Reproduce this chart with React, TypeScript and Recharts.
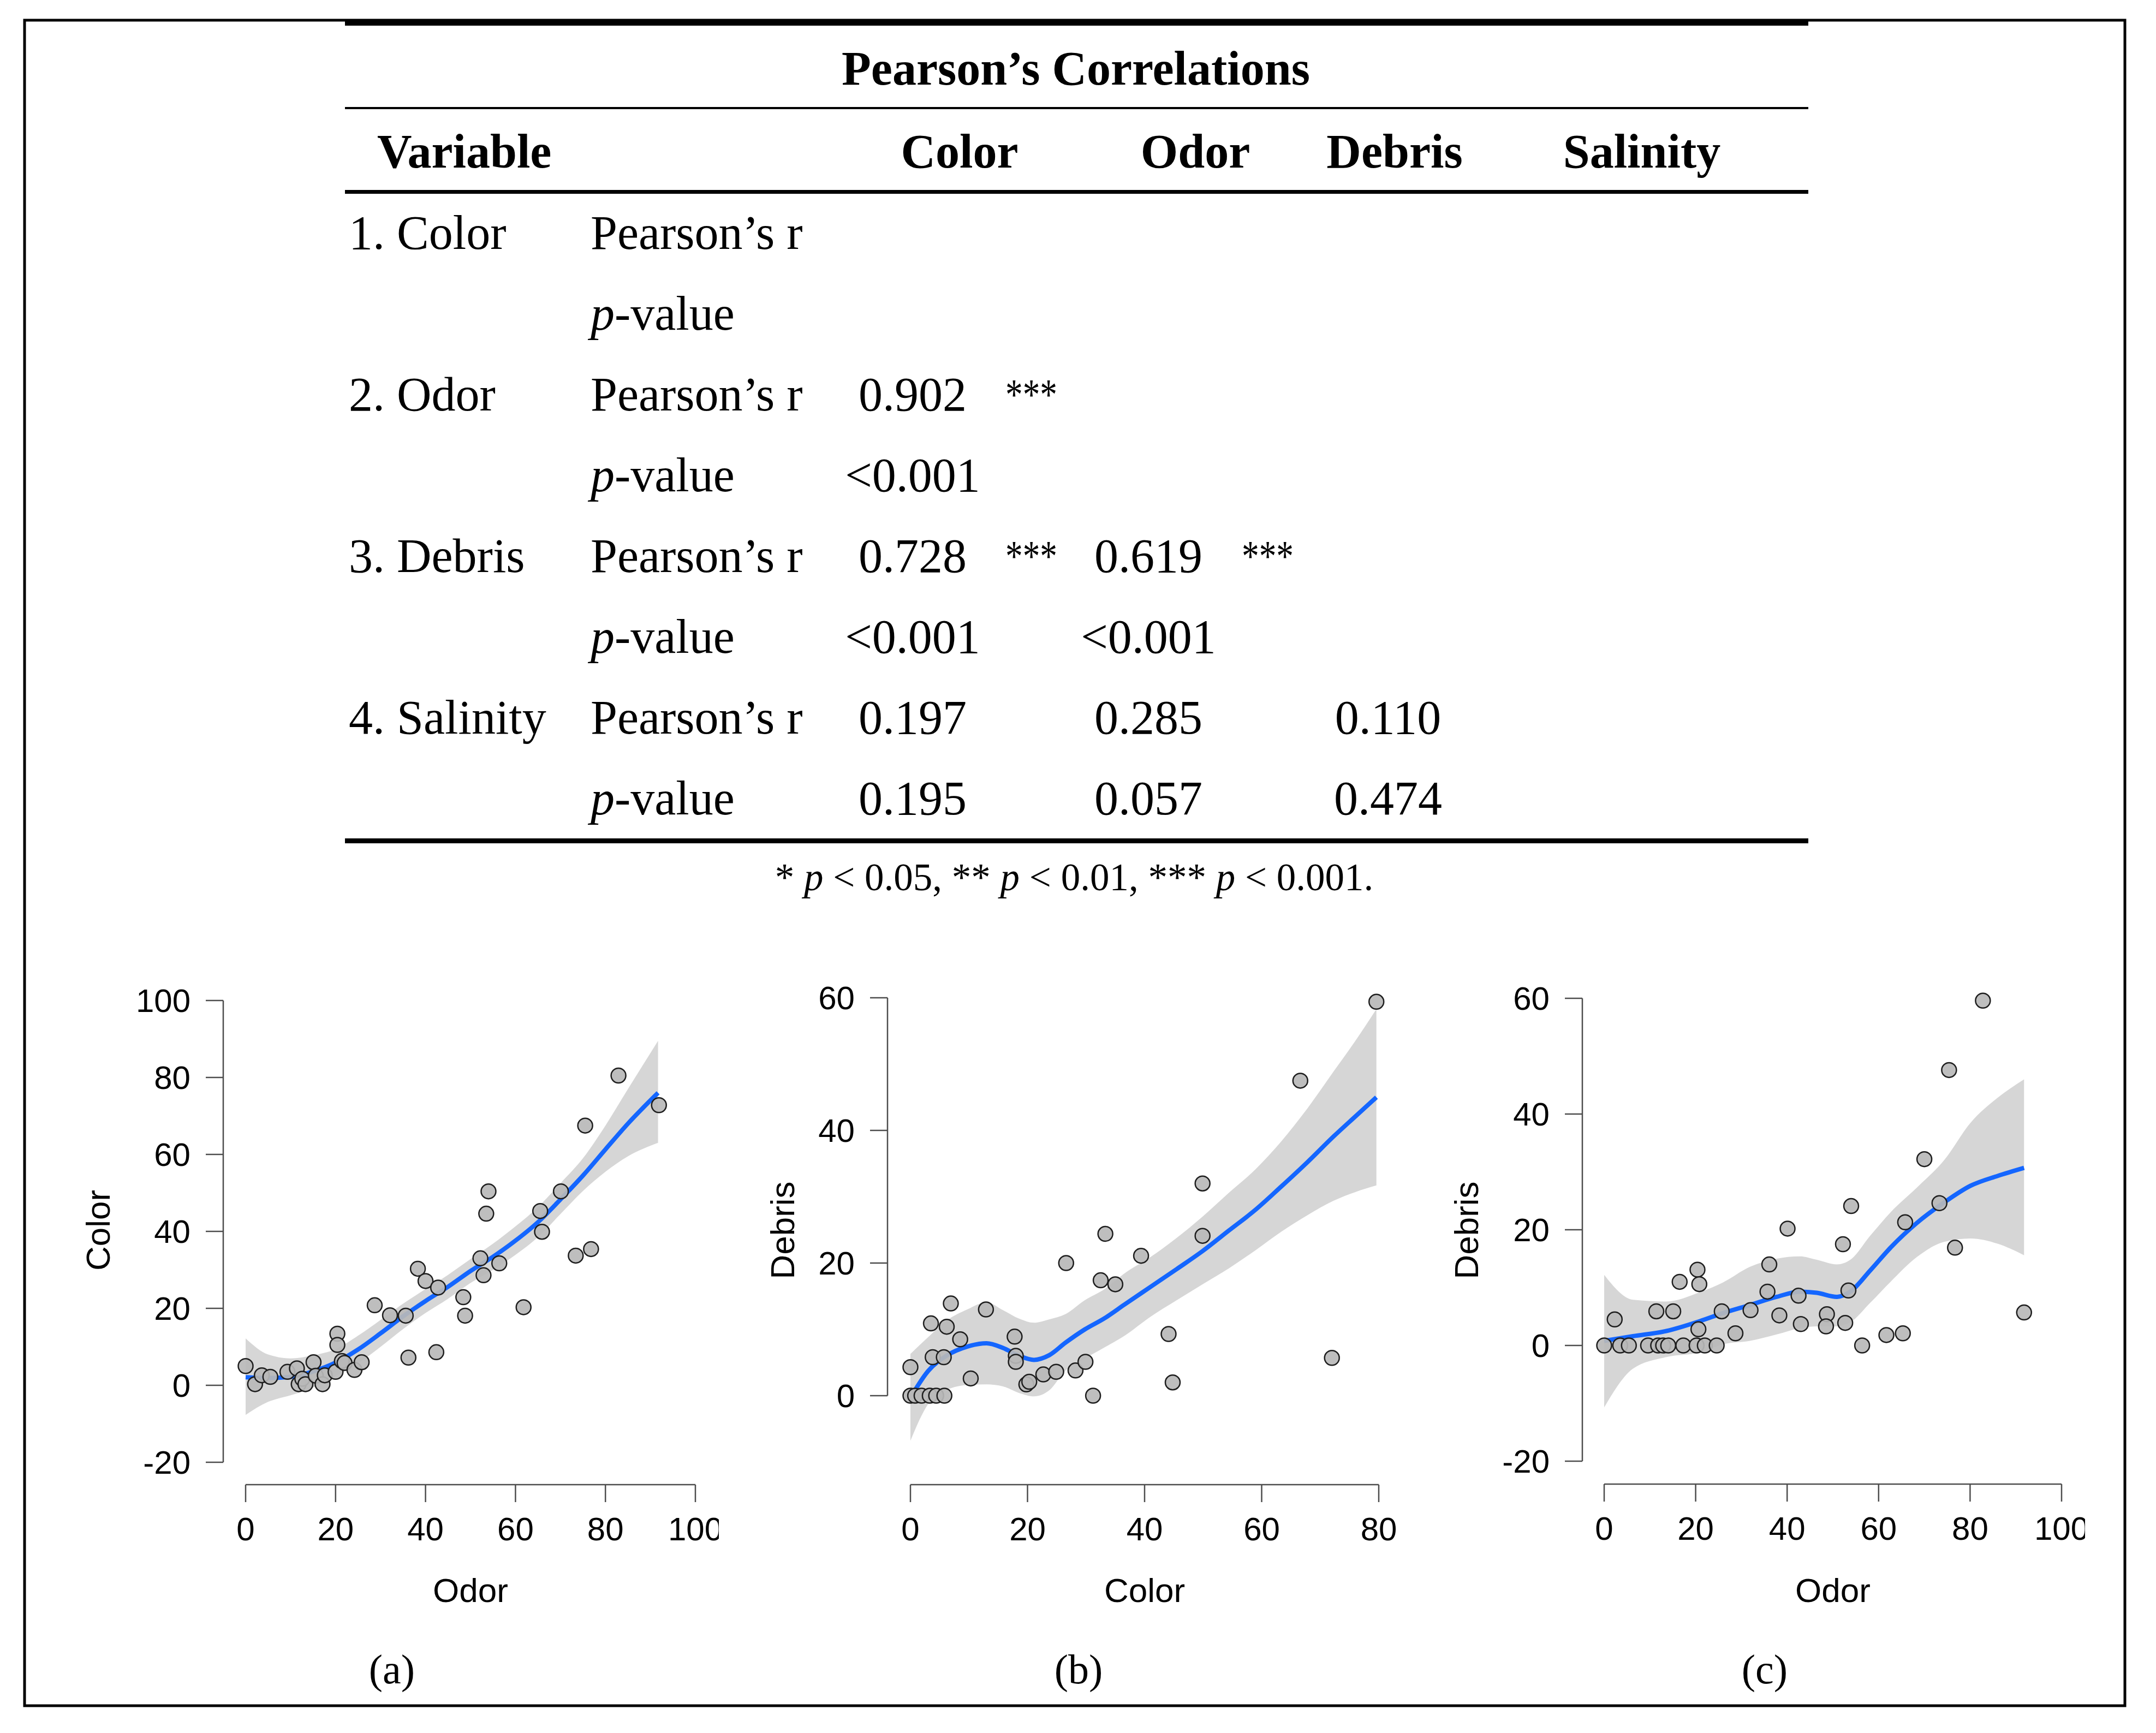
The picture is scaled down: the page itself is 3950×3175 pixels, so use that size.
import React from 'react';
import { ComposedChart, XAxis, YAxis, Area, Line, Scatter } from 'recharts';

const PAGE_W = 3950;
const PAGE_H = 3175;
const SANS = '"Liberation Sans", Arial, Helvetica, sans-serif';
const SERIF = '"Liberation Serif", "Times New Roman", serif';
const AXIS_COLOR = '#4d4d4d';
const BLUE = '#1466ff';
const BAND = '#d6d6d6';
const DOT_FILL = '#b9b9b9';
const DOT_STROKE = '#1e1e1e';

// ---------------- Table content ----------------
const TABLE_TITLE = 'Pearson’s Correlations';
const TABLE_HEADERS = ['Variable', 'Color', 'Odor', 'Debris', 'Salinity'];
const VARIABLES = ['1. Color', '2. Odor', '3. Debris', '4. Salinity'];
const R_VALUES: string[][] = [[], ['0.902'], ['0.728', '0.619'], ['0.197', '0.285', '0.110']];
const R_STARS: string[][] = [[], ['***'], ['***', '***'], ['', '', '']];
const P_VALUES: string[][] = [[], ['<0.001'], ['<0.001', '<0.001'], ['0.195', '0.057', '0.474']];
const STAT_LABEL_R = 'Pearson’s r';
const PANEL_LABELS = ['(a)', '(b)', '(c)'];

// ---------------- Panel (a): Odor vs Color ----------------
const A_POINTS: [number, number][] = [
  [0, 5.0], [2.1, 0.3], [3.6, 2.6], [5.5, 2.2], [9.3, 3.5], [11.4, 4.4], [11.8, 0.3], [12.6, 1.7],
  [13.3, 0.3], [15.1, 6.0], [15.6, 2.5], [17.1, 0.3], [17.6, 2.6], [20.0, 3.5], [20.4, 13.4], [20.4, 10.5],
  [21.4, 6.3], [22.0, 5.8], [24.2, 4.0], [25.8, 6.0], [28.7, 20.8], [32.1, 18.2], [35.6, 18.1], [36.2, 7.2],
  [38.3, 30.3], [40.0, 27.1], [42.8, 25.4], [42.4, 8.6], [48.4, 22.9], [48.8, 18.1], [52.2, 33.0], [52.9, 28.6],
  [53.5, 44.6], [54.0, 50.4], [56.4, 31.7], [61.8, 20.3], [65.5, 45.3], [65.9, 39.9], [70.1, 50.4], [73.4, 33.7],
  [75.5, 67.5], [76.8, 35.4], [82.9, 80.5], [91.9, 72.8],
];
const A_CURVE_X = [0, 5, 10, 15, 20, 25, 30, 35, 40, 45, 50, 55, 60, 65, 70, 75, 80, 85, 91.7];
const A_FIT = [2.1, 1.9, 2.2, 3.6, 5.9, 9.3, 13.5, 17.9, 21.9, 25.6, 29.7, 33.4, 37.6, 42.4, 48.3, 54.5, 61.3, 68.0, 76.0];
const A_LOW = [-7.7, -4.3, -2.6, -0.6, 2.4, 5.7, 10.0, 14.6, 18.8, 22.5, 26.6, 30.0, 33.9, 38.5, 44.5, 50.5, 55.5, 59.5, 63.0];
const A_HIGH = [12.2, 8.0, 7.0, 7.8, 9.4, 12.9, 17.0, 21.2, 25.0, 28.7, 32.8, 36.8, 41.3, 46.3, 52.5, 59.0, 67.5, 77.0, 89.5];
const A_X_TICKS = [0, 20, 40, 60, 80, 100];
const A_Y_TICKS = [-20, 0, 20, 40, 60, 80, 100];

// ---------------- Panel (b): Color vs Debris ----------------
const B_POINTS: [number, number][] = [
  [0, 4.3], [0, 0], [0.8, 0], [1.9, 0], [3.3, 0], [4.4, 0], [5.8, 0], [3.8, 5.8], [5.7, 5.8], [3.5, 10.9],
  [6.2, 10.4], [6.9, 13.9], [8.5, 8.5], [10.3, 2.6], [12.9, 13.0], [17.8, 8.9], [18.0, 6.0], [18.0, 5.1],
  [19.8, 1.7], [20.3, 2.1], [22.7, 3.2], [24.9, 3.6], [26.6, 20.0], [28.2, 3.8], [29.9, 5.1], [31.2, 0],
  [32.5, 17.4], [35.0, 16.8], [33.3, 24.4], [39.4, 21.1], [44.1, 9.3], [44.8, 2.0], [49.9, 24.1], [49.9, 32.0],
  [66.6, 47.5], [72.0, 5.7], [79.6, 59.4],
];
const B_CURVE_X = [0, 3, 6.3, 9.7, 13, 15.8, 18.6, 21.1, 23.7, 26.5, 29.8, 33.2, 36.5, 41, 45.5, 49.9, 54.4, 58.9, 63.3, 67.8, 72.3, 76, 79.6];
const B_FIT = [-0.3, 3.7, 6.1, 7.4, 7.9, 7.2, 6.0, 5.4, 6.1, 8.0, 10.0, 11.7, 13.7, 16.4, 19.1, 21.8, 24.9, 28.0, 31.5, 35.2, 39.1, 42.1, 45.0];
const B_LOW = [-6.8, -1.3, 0.9, 1.6, 1.7, 1.4, 0.4, -0.1, 0.8, 3.8, 5.6, 7.3, 9.0, 11.9, 14.4, 16.8, 19.2, 21.9, 24.7, 27.2, 29.4, 30.7, 31.7];
const B_HIGH = [6.3, 8.8, 11.4, 13.0, 14.1, 12.9, 11.6, 11.0, 11.5, 12.3, 14.4, 16.1, 18.4, 20.9, 23.8, 27.0, 30.6, 34.1, 38.3, 43.3, 48.9, 53.5, 58.3];
const B_X_TICKS = [0, 20, 40, 60, 80];
const B_Y_TICKS = [0, 20, 40, 60];

// ---------------- Panel (c): Odor vs Debris ----------------
const C_POINTS: [number, number][] = [
  [0, 0], [2.3, 4.5], [3.5, 0], [5.4, 0], [9.6, 0], [11.4, 5.9], [11.8, 0], [12.9, 0], [14.0, 0], [15.1, 5.9],
  [16.5, 11.0], [17.3, 0], [20.2, 0], [20.6, 2.8], [20.4, 13.1], [20.8, 10.6], [22.0, 0], [24.6, 0], [25.7, 5.9],
  [28.7, 2.1], [32.0, 6.1], [35.7, 9.3], [36.1, 14.0], [38.3, 5.2], [40.1, 20.2], [42.5, 8.6], [43.0, 3.7],
  [48.7, 5.4], [48.5, 3.3], [52.2, 17.5], [52.7, 3.9], [53.4, 9.5], [54.0, 24.1], [56.4, 0], [61.7, 1.8],
  [65.3, 2.1], [65.8, 21.3], [70.0, 32.2], [73.3, 24.6], [75.4, 47.6], [76.7, 16.9], [82.8, 59.6], [91.8, 5.7],
];
const C_CURVE_X = [0, 6.3, 13.6, 20.9, 26, 31.9, 37.7, 42.8, 46.5, 50.9, 53.8, 58.2, 62.6, 68.4, 74.3, 80.1, 86, 91.8];
const C_FIT = [0.8, 1.6, 2.5, 4.2, 5.6, 7.0, 8.4, 9.3, 9.1, 8.4, 9.3, 13.0, 16.9, 21.2, 24.7, 27.6, 29.3, 30.7];
const C_LOW = [-10.7, -4.0, -2.0, -1.2, 0.2, 0.8, 1.9, 3.0, 3.3, 3.3, 4.0, 7.4, 11.0, 15.3, 17.9, 18.5, 17.6, 15.6];
const C_HIGH = [12.2, 7.9, 7.6, 9.2, 10.9, 13.6, 15.0, 15.4, 14.8, 14.0, 14.8, 19.0, 23.0, 27.3, 32.0, 38.5, 42.8, 46.0];
const C_X_TICKS = [0, 20, 40, 60, 80, 100];
const C_Y_TICKS = [-20, 0, 20, 40, 60];

// ---------------- helpers ----------------
type CurveRow = { x: number; fit: number; band: [number, number] };
const buildCurve = (xs: number[], fit: number[], lo: number[], hi: number[]): CurveRow[] =>
  xs.map((x, i) => ({ x, fit: fit[i], band: [lo[i], hi[i]] as [number, number] }));
const buildPoints = (pts: [number, number][]) => pts.map(([x, y]) => ({ x, y }));

type PanelCfg = {
  points: { x: number; y: number }[];
  curve: CurveRow[];
  xTicks: number[];
  yTicks: number[];
  axisX: number; // page x of y-axis line (= plot left)
  x0: number; // page x of first x tick
  x1: number; // page x of last x tick
  xAxisY: number; // page y of x-axis line (= plot bottom)
  yTop: number; // page y of top y tick
  yBottom: number; // page y of bottom y tick
  plotTop: number;
  plotRight: number;
  xLabel: string;
  yLabel: string;
  yLabelX: number;
  clipLast: boolean;
  panelLabel: string;
  panelX: number;
};

const PANELS: PanelCfg[] = [
  {
    points: buildPoints(A_POINTS), curve: buildCurve(A_CURVE_X, A_FIT, A_LOW, A_HIGH),
    xTicks: A_X_TICKS, yTicks: A_Y_TICKS,
    axisX: 409, x0: 450, x1: 1274, xAxisY: 2720, yTop: 1833, yBottom: 2679, plotTop: 1790, plotRight: 1310,
    xLabel: 'Odor', yLabel: 'Color', yLabelX: 201, clipLast: true, panelLabel: PANEL_LABELS[0], panelX: 718,
  },
  {
    points: buildPoints(B_POINTS), curve: buildCurve(B_CURVE_X, B_FIT, B_LOW, B_HIGH),
    xTicks: B_X_TICKS, yTicks: B_Y_TICKS,
    axisX: 1626, x0: 1668, x1: 2526, xAxisY: 2720, yTop: 1828, yBottom: 2557, plotTop: 1790, plotRight: 2570,
    xLabel: 'Color', yLabel: 'Debris', yLabelX: 1455, clipLast: false, panelLabel: PANEL_LABELS[1], panelX: 1976,
  },
  {
    points: buildPoints(C_POINTS), curve: buildCurve(C_CURVE_X, C_FIT, C_LOW, C_HIGH),
    xTicks: C_X_TICKS, yTicks: C_Y_TICKS,
    axisX: 2899, x0: 2939, x1: 3777, xAxisY: 2719, yTop: 1829, yBottom: 2677, plotTop: 1790, plotRight: 3815,
    xLabel: 'Odor', yLabel: 'Debris', yLabelX: 2708, clipLast: true, panelLabel: PANEL_LABELS[2], panelX: 3233,
  },
];

const Y_AXIS_W = 300;
const X_AXIS_H = 200;

function renderXTick(p: any, cfg: PanelCfg) {
  const v = p.payload.value;
  const x = p.x;
  const baseY = cfg.xAxisY + 102;
  const style = { fontFamily: SANS, fontSize: 60, fill: '#000' };
  if (cfg.clipLast && v === cfg.xTicks[cfg.xTicks.length - 1]) {
    return (
      <g>
        <svg x={x - 80} y={baseY - 70} width={80 + 43} height={100} overflow="hidden">
          <text x={80} y={70} textAnchor="middle" {...style}>{String(v)}</text>
        </svg>
      </g>
    );
  }
  return (
    <text x={x} y={baseY} textAnchor="middle" {...style}>{String(v)}</text>
  );
}

function renderYTick(p: any, cfg: PanelCfg) {
  const v = p.payload.value;
  return (
    <text x={cfg.axisX - 60} y={p.y + 21} textAnchor="end" fontFamily={SANS} fontSize={60} fill="#000">
      {String(v)}
    </text>
  );
}

const renderDot = (p: any) => (
  <circle cx={p.cx} cy={p.cy} r={13.5} fill={DOT_FILL} fillOpacity={0.92} stroke={DOT_STROKE} strokeWidth={2.5} />
);

function Panel({ cfg }: { cfg: PanelCfg }) {
  const xMin = cfg.xTicks[0];
  const xMax = cfg.xTicks[cfg.xTicks.length - 1];
  const yMin = cfg.yTicks[0];
  const yMax = cfg.yTicks[cfg.yTicks.length - 1];
  // extend the domains so the whole plot rectangle (incl. the gap between the axes) is inside them
  const xPerPx = (xMax - xMin) / (cfg.x1 - cfg.x0);
  const yPerPx = (yMax - yMin) / (cfg.yBottom - cfg.yTop);
  const xDomain: [number, number] = [xMin - (cfg.x0 - cfg.axisX) * xPerPx, xMax + (cfg.plotRight - cfg.x1) * xPerPx];
  const yDomain: [number, number] = [yMin - (cfg.xAxisY - cfg.yBottom) * yPerPx, yMax + (cfg.yTop - cfg.plotTop) * yPerPx];
  const padLeft = cfg.x0 - cfg.axisX;
  const padTop = cfg.yTop - cfg.plotTop;
  return (
    <div style={{ position: 'absolute', left: 0, top: 0, width: PAGE_W, height: PAGE_H, pointerEvents: 'none' }}>
      <ComposedChart
        width={PAGE_W}
        height={PAGE_H}
        data={cfg.curve}
        margin={{
          top: cfg.plotTop,
          left: cfg.axisX - Y_AXIS_W,
          right: PAGE_W - cfg.plotRight,
          bottom: PAGE_H - cfg.xAxisY - X_AXIS_H,
        }}
      >
        <XAxis
          type="number"
          dataKey="x"
          domain={xDomain}
          ticks={cfg.xTicks}
          interval={0}
          allowDataOverflow
          height={X_AXIS_H}
          axisLine={{ stroke: AXIS_COLOR, strokeWidth: 2.5, strokeDasharray: `0 ${padLeft} ${cfg.x1 - cfg.x0} 100000` }}
          tickLine={{ stroke: AXIS_COLOR, strokeWidth: 2.5 }}
          tickSize={32}
          tick={(p: any) => renderXTick(p, cfg)}
        />
        <YAxis
          type="number"
          domain={yDomain}
          ticks={cfg.yTicks}
          interval={0}
          allowDataOverflow
          width={Y_AXIS_W}
          axisLine={{ stroke: AXIS_COLOR, strokeWidth: 2.5, strokeDasharray: `0 ${padTop} ${cfg.yBottom - cfg.yTop} 100000` }}
          tickLine={{ stroke: AXIS_COLOR, strokeWidth: 2.5 }}
          tickSize={32}
          tick={(p: any) => renderYTick(p, cfg)}
        />
        <Area
          dataKey="band"
          type="monotone"
          fill={BAND}
          fillOpacity={1}
          stroke="none"
          activeDot={false}
          dot={false}
          isAnimationActive={false}
        />
        <Scatter data={cfg.points} dataKey="y" shape={renderDot} isAnimationActive={false} />
        <Line
          dataKey="fit"
          type="monotone"
          stroke={BLUE}
          strokeWidth={8}
          dot={false}
          activeDot={false}
          isAnimationActive={false}
        />
      </ComposedChart>
    </div>
  );
}

// ---------------- Table layout ----------------
const RULE_X = 632;
const RULE_W = 2681;
const ROW_BASE = 456;
const ROW_STEP = 148;
const VAR_X = 639;
const STAT_X = 1082;
const VALUE_CENTERS = [1672, 2104, 2543];
const STAR_X = [1842, 2275, 2710];
const HEADER_POS: { x: number; anchor: 'start' | 'middle' }[] = [
  { x: 691, anchor: 'start' },
  { x: 1758, anchor: 'middle' },
  { x: 2190, anchor: 'middle' },
  { x: 2555, anchor: 'middle' },
  { x: 3008, anchor: 'middle' },
];

function PValueLabel({ y }: { y: number }) {
  return (
    <text x={STAT_X} y={y} fontFamily={SERIF} fontSize={88} fill="#000">
      <tspan fontStyle="italic">p</tspan>
      <tspan>-value</tspan>
    </text>
  );
}

function Overlay() {
  const rows: React.ReactNode[] = [];
  VARIABLES.forEach((v, i) => {
    const yR = ROW_BASE + ROW_STEP * (2 * i);
    const yP = ROW_BASE + ROW_STEP * (2 * i + 1);
    rows.push(
      <text key={`v${i}`} x={VAR_X} y={yR} fontFamily={SERIF} fontSize={88} fill="#000">{v}</text>,
      <text key={`r${i}`} x={STAT_X} y={yR} fontFamily={SERIF} fontSize={88} fill="#000">{STAT_LABEL_R}</text>,
      <PValueLabel key={`p${i}`} y={yP} />
    );
    R_VALUES[i].forEach((val, j) => {
      rows.push(
        <text key={`rv${i}-${j}`} x={VALUE_CENTERS[j]} y={yR} textAnchor="middle" fontFamily={SERIF} fontSize={88} fill="#000">{val}</text>
      );
      const st = R_STARS[i][j];
      if (st) {
        rows.push(
          <text key={`st${i}-${j}`} x={STAR_X[j]} y={yR - 2} fontFamily={SERIF} fontSize={80} fill="#000" textLength={95} lengthAdjust="spacingAndGlyphs">{st}</text>
        );
      }
    });
    P_VALUES[i].forEach((val, j) => {
      rows.push(
        <text key={`pv${i}-${j}`} x={VALUE_CENTERS[j]} y={yP} textAnchor="middle" fontFamily={SERIF} fontSize={88} fill="#000">{val}</text>
      );
    });
  });

  return (
    <svg width={PAGE_W} height={PAGE_H} style={{ position: 'absolute', left: 0, top: 0 }}>
      <rect x={0} y={0} width={PAGE_W} height={PAGE_H} fill="#ffffff" />
      <rect x={45} y={37} width={3848} height={3088} fill="none" stroke="#000" strokeWidth={5} />
      {/* table rules */}
      <rect x={RULE_X} y={38} width={RULE_W} height={9} fill="#000" />
      <rect x={RULE_X} y={196} width={RULE_W} height={4} fill="#000" />
      <rect x={RULE_X} y={348} width={RULE_W} height={7} fill="#000" />
      <rect x={RULE_X} y={1536} width={RULE_W} height={9} fill="#000" />
      <text x={1971} y={155} textAnchor="middle" fontFamily={SERIF} fontSize={88} fontWeight="bold" fill="#000">{TABLE_TITLE}</text>
      {TABLE_HEADERS.map((h, i) => (
        <text key={h} x={HEADER_POS[i].x} y={307} textAnchor={HEADER_POS[i].anchor} fontFamily={SERIF} fontSize={88} fontWeight="bold" fill="#000">{h}</text>
      ))}
      {rows}
      <text x={1968} y={1631} textAnchor="middle" fontFamily={SERIF} fontSize={71} fill="#000">
        <tspan>* </tspan><tspan fontStyle="italic">p</tspan><tspan> &lt; 0.05, ** </tspan>
        <tspan fontStyle="italic">p</tspan><tspan> &lt; 0.01, *** </tspan>
        <tspan fontStyle="italic">p</tspan><tspan> &lt; 0.001.</tspan>
      </text>
      {/* axis titles and panel labels */}
      {PANELS.map((c, i) => (
        <g key={`t${i}`}>
          <text x={(c.x0 + c.x1) / 2} y={2935} textAnchor="middle" fontFamily={SANS} fontSize={62} fill="#000">{c.xLabel}</text>
          <text
            x={c.yLabelX}
            y={2254}
            textAnchor="middle"
            transform={`rotate(-90, ${c.yLabelX}, 2254)`}
            fontFamily={SANS}
            fontSize={62}
            fill="#000"
          >
            {c.yLabel}
          </text>
          <text x={c.panelX} y={3084} textAnchor="middle" fontFamily={SERIF} fontSize={76} fill="#000">{c.panelLabel}</text>
        </g>
      ))}
    </svg>
  );
}

export default function App() {
  return (
    <div style={{ position: 'absolute', left: 0, top: 0, width: PAGE_W, height: PAGE_H, background: '#fff', overflow: 'hidden' }}>
      <Overlay />
      {PANELS.map((cfg, i) => (
        <Panel key={i} cfg={cfg} />
      ))}
    </div>
  );
}
